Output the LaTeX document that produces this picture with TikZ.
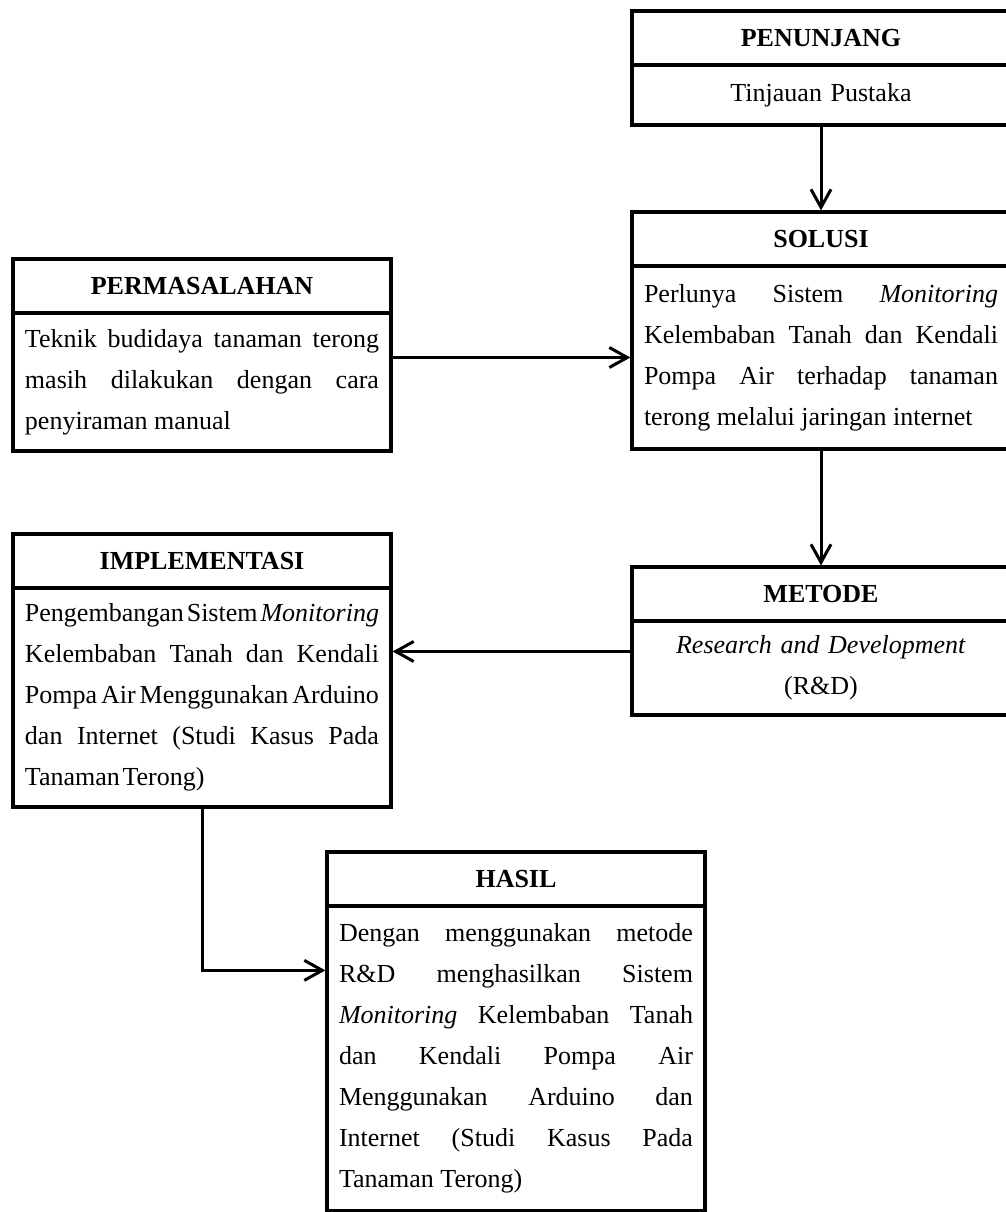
\documentclass[tikz,border=0pt]{standalone}
\usepackage{fontspec}
\setmainfont{Liberation Serif}
\usetikzlibrary{positioning,arrows.meta}
\tolerance=10000
\hyphenpenalty=10000

\begin{document}
\begin{tikzpicture}[x=0.5pt, y=-0.5pt,
  head/.style={draw, line width=1.6pt, outer sep=0pt, anchor=north west, minimum width=189pt, minimum height=27pt, inner sep=0pt, font=\fontsize{13}{15}\selectfont\bfseries},
  body/.style={draw, line width=1.6pt, outer sep=0pt, text width=177pt, inner xsep=6pt, inner ysep=0pt, align=justify, font=\fontsize{13}{20.5}\selectfont},
  arr/.style={-{Straight Barb[length=9pt, width=10pt]}, line width=1.5pt, shorten >=0.8pt}]
\useasboundingbox (0,0) rectangle (1006,1212);
% Draw boxes
\node[head] (penunjangH) at (632,11) {PENUNJANG};
\node[body, align=center, minimum height=30pt, below=0pt of penunjangH] (penunjang) {Tinjauan Pustaka};

\node[head] (solusiH) at (632,212) {SOLUSI};
\node[body, minimum height=91.5pt, below=0pt of solusiH] (solusi) {Perlunya Sistem \textit{Monitoring}\linebreak Kelembaban Tanah dan Kendali\linebreak Pompa Air terhadap tanaman\linebreak terong melalui jaringan internet};

\node[head] (permasalahanH) at (13,259) {PERMASALAHAN};
\node[body, minimum height=69pt, below=0pt of permasalahanH] (permasalahan) {Teknik budidaya tanaman terong\linebreak masih dilakukan dengan cara\linebreak penyiraman manual};

\node[head] (implementasiH) at (13,534) {IMPLEMENTASI};
\node[body, minimum height=109.5pt, below=0pt of implementasiH] (implementasi) {\spaceskip=0.1em plus 1em minus 0.05em\relax Pengembangan Sistem \textit{Monitoring}\linebreak Kelembaban Tanah dan Kendali\linebreak Pompa Air Menggunakan Arduino\linebreak dan Internet (Studi Kasus Pada\linebreak Tanaman Terong)};

\node[head] (metodeH) at (632,567) {METODE};
\node[body, align=center, minimum height=47pt, below=0pt of metodeH] (metode) {\textit{Research and Development}\\(R\&D)};

\node[head] (hasilH) at (327,852) {HASIL};
\node[body, minimum height=152.5pt, below=0pt of hasilH] (hasil) {Dengan menggunakan metode\linebreak R\&D menghasilkan Sistem\linebreak \textit{Monitoring} Kelembaban Tanah\linebreak dan Kendali Pompa Air\linebreak Menggunakan Arduino dan\linebreak Internet (Studi Kasus Pada\linebreak Tanaman Terong)};
% Draw arrows
\draw[arr] (penunjang.south) -- (solusiH.north);
\draw[arr] (permasalahan.east |- solusi.west) -- (solusi.west);
\draw[arr] (solusi.south) -- (metodeH.north);
\draw[arr] (metode.175) -- (implementasi.east |- metode.175);
\draw[arr] (implementasi.south) |- (hasil.155);
\end{tikzpicture}
\end{document}
